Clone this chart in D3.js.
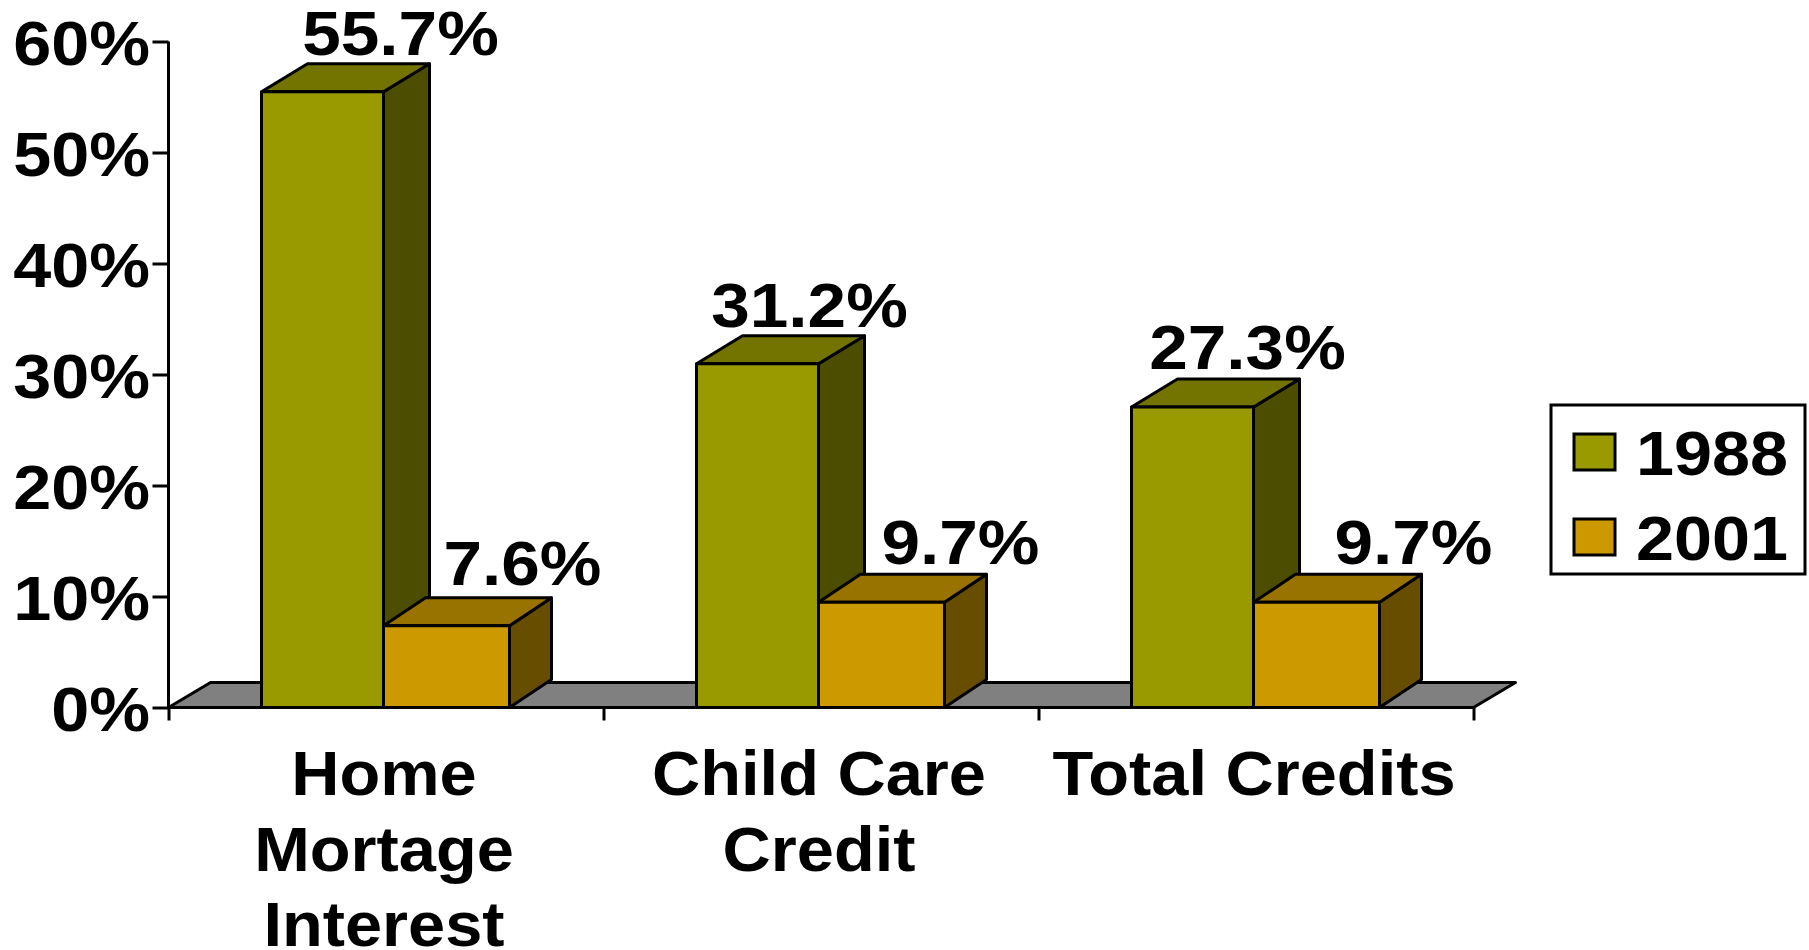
<!DOCTYPE html>
<html><head><meta charset="utf-8">
<script src="https://cdn.jsdelivr.net/npm/d3@7"></script>
<style>html,body{margin:0;background:#fff;overflow:hidden}</style></head>
<body><svg id="c" width="1809" height="950"></svg>
<script>
const categories = [["Home","Mortage","Interest"],["Child Care","Credit"],["Total Credits"]];
const seriesNames = ["1988","2001"];
const values1988 = [55.7,31.2,27.3];
const values2001 = [7.6,9.7,9.7];
const yTicks = [0,10,20,30,40,50,60];

const fill = {"1988":"#999900","2001":"#cc9900"};
const topFill = {"1988":"#737300","2001":"#997300"};
const sideFill = {"1988":"#4d4d00","2001":"#664d00"};
const depth = {"1988":[46,28],"2001":[42,28]};
// label nudges (dx from bar centre, dy above bar top), per series/category
const nudge = {"1988":[[78,9],[52,9],[55,10]],"2001":[[76,13],[79,10],[97,10]]};

const svg = d3.select("#c");
const FS = 63, SX = 1.085, SX_DATA = 1.1, SX_CAT = 1.06, TOP_INSET = 2.5;
const y = d3.scaleLinear().domain([0,60]).range([707.5,41.5]);
const x = d3.scaleLinear().domain([0,3]).range([168.5,1473.5]);
const inner = d3.scaleLinear().domain([0,1,2]).range([93,215,341]);
const axisColor = "#000", SW = 3;

function label(g, txt, px, py, anchor, sx){
  return g.append("text").text(txt)
    .attr("transform", `translate(${px},${py}) scale(${sx||SX},1)`)
    .attr("font-family","'Liberation Sans',Arial,sans-serif")
    .attr("font-weight","700").attr("font-size",FS).attr("fill","#000")
    .attr("text-anchor",anchor||"middle");
}

// floor
const [fdx,fdy] = [42,25];
svg.append("path").attr("d",d3.line()([
  [x(0),y(0)],[x(0)+fdx,y(0)-fdy],[x(3)+fdx,y(0)-fdy],[x(3),y(0)]
])+"Z").attr("fill","#808080").attr("stroke","#000").attr("stroke-width",SW).attr("stroke-linejoin","round");

// axes
const ay = svg.append("g").attr("transform",`translate(${x(0)},0)`)
  .call(d3.axisLeft(y).tickValues(yTicks).tickSize(16).tickFormat(""));
const ax = svg.append("g").attr("transform",`translate(0,${y(0)})`)
  .call(d3.axisBottom(x).tickValues([0,1,2,3]).tickSize(13).tickFormat(""));
[ay,ax].forEach(a=>{a.selectAll("path,line").attr("stroke",axisColor).attr("stroke-width",SW);});
ay.select("path.domain").attr("d",`M0,${y(60)}V${y(0)}`);
ax.select("path.domain").attr("d",`M${x(0)},0H${x(3)}`);

// y labels
const yl = svg.append("g");
yTicks.forEach(v=>label(yl, v+"%", 150, y(v)+23, "end"));

// bars
const bars = svg.append("g");
categories.forEach((c,i)=>{
  seriesNames.forEach((s,j)=>{
    const v = (j===0?values1988:values2001)[i];
    const x0 = x(i)+inner(j), x1 = x(i)+inner(j+1), y0 = y(0), y1 = y(v)+TOP_INSET;
    const [dx,dy] = depth[s];
    const st = sel=>sel.attr("stroke","#000").attr("stroke-width",SW).attr("stroke-linejoin","round");
    st(bars.append("path").attr("fill",sideFill[s]).attr("d",d3.line()([[x1,y0],[x1+dx,y0-dy],[x1+dx,y1-dy],[x1,y1]])+"Z"));
    st(bars.append("path").attr("fill",topFill[s]).attr("d",d3.line()([[x0,y1],[x0+dx,y1-dy],[x1+dx,y1-dy],[x1,y1]])+"Z"));
    st(bars.append("rect").attr("fill",fill[s]).attr("x",x0).attr("y",y1).attr("width",x1-x0).attr("height",y0-y1));
  });
});
// data labels
const dl = svg.append("g");
categories.forEach((c,i)=>{
  seriesNames.forEach((s,j)=>{
    const v = (j===0?values1988:values2001)[i];
    const cx = x(i)+(inner(j)+inner(j+1))/2;
    const [nx,ny] = nudge[s][i];
    label(dl, v.toFixed(1)+"%", cx+nx, y(v)+TOP_INSET-depth[s][1]-ny, "middle", SX_DATA);
  });
});

// category labels
const cl = svg.append("g");
categories.forEach((c,i)=>{
  c.forEach((line,k)=>label(cl,line,(x(i)+x(i+1))/2-2,795+k*75.5,"middle",SX_CAT));
});

// legend
const lg = svg.append("g");
lg.append("rect").attr("x",1551).attr("y",405).attr("width",254).attr("height",169)
  .attr("fill","#fff").attr("stroke","#000").attr("stroke-width",SW);
const ly = d3.scalePoint().domain(seriesNames).range([434,519]);
seriesNames.forEach(s=>{
  lg.append("rect").attr("x",1574).attr("y",ly(s)).attr("width",41).attr("height",36)
    .attr("fill",fill[s]).attr("stroke","#000").attr("stroke-width",SW);
  label(lg,s,1636,ly(s)+41,"start");
});
</script></body></html>
